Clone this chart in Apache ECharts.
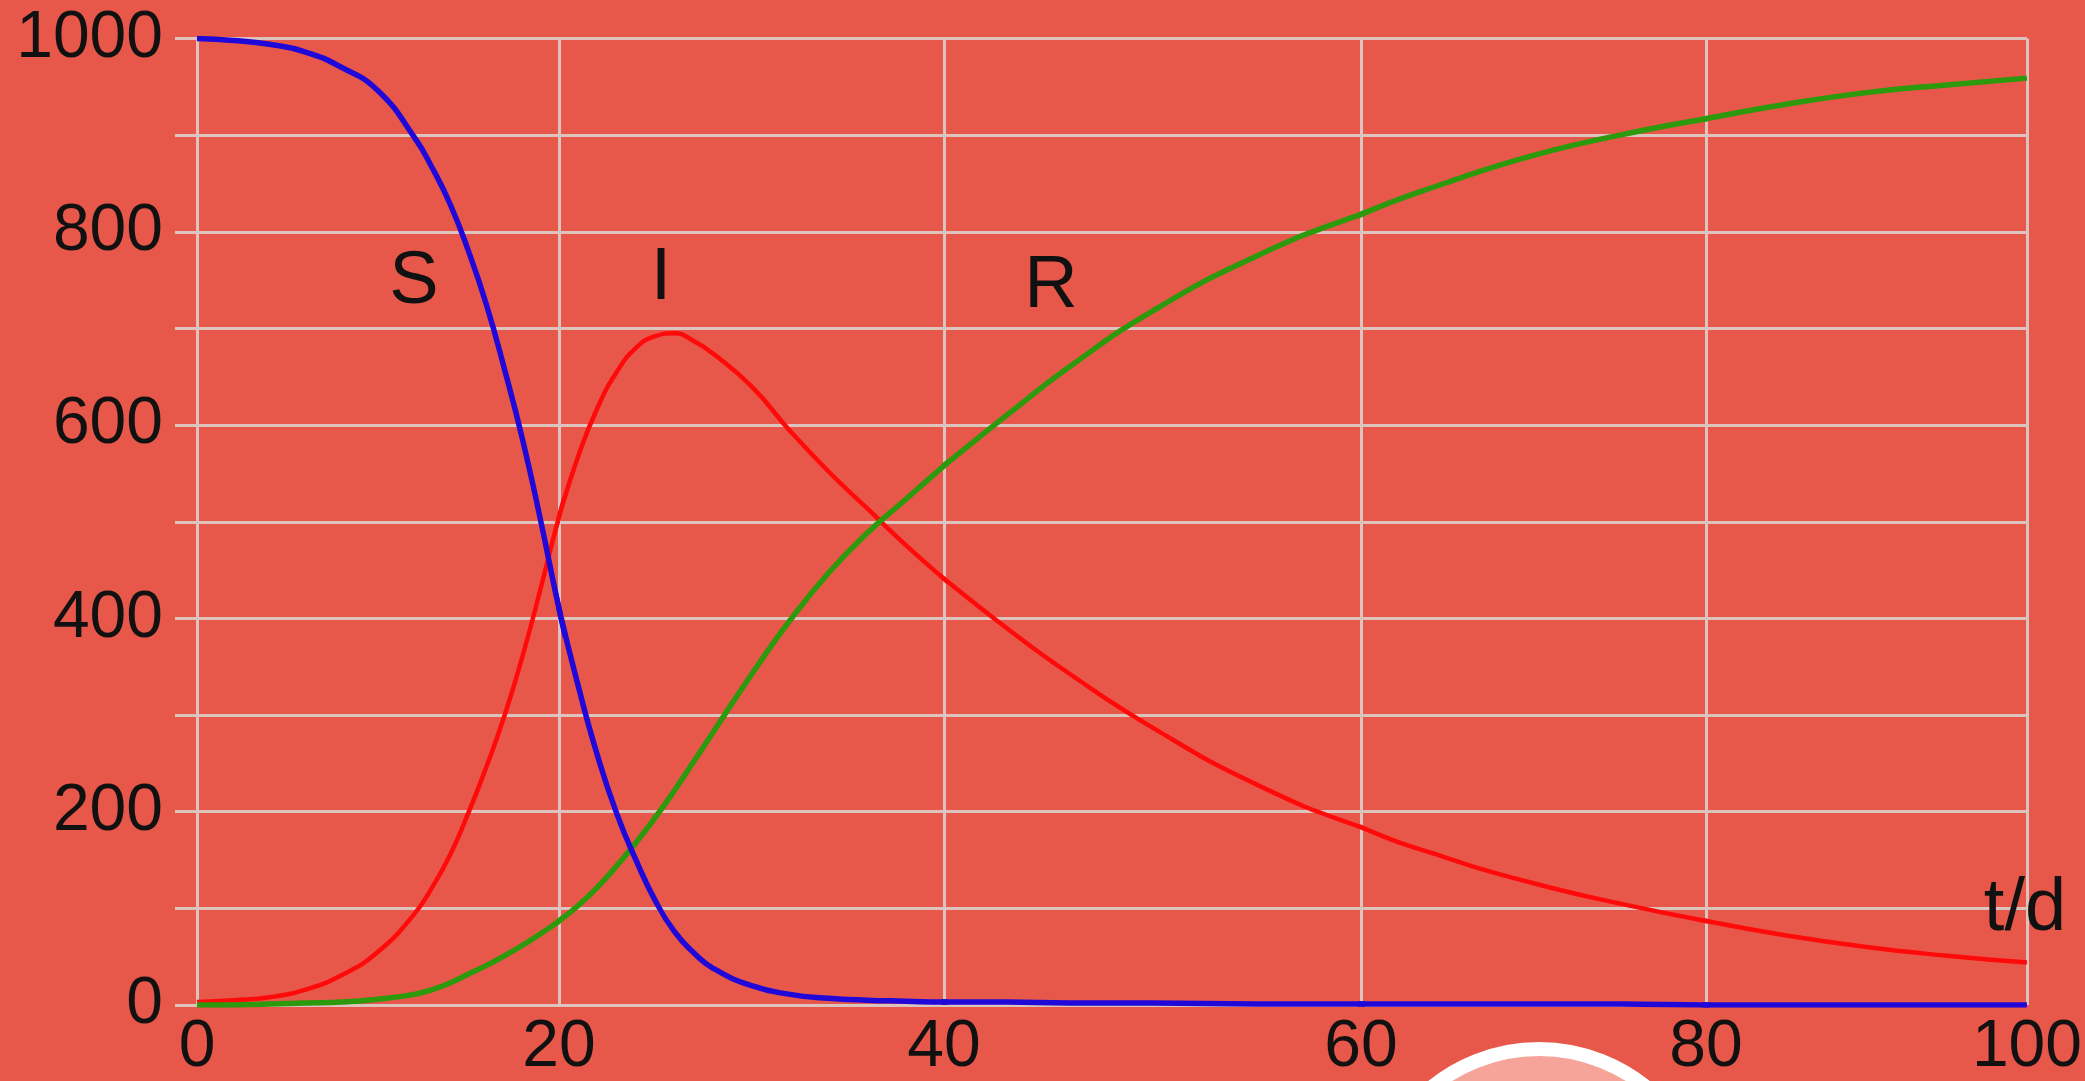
<!DOCTYPE html>
<html>
<head>
<meta charset="utf-8">
<script src="https://cdn.jsdelivr.net/npm/echarts@6/dist/echarts.min.js"></script>
<style>
html,body{margin:0;padding:0;background:#E8584A;}
#chart{width:2085px;height:1081px;}
</style>
</head>
<body>
<div id="chart"></div>
<script>
// ---- data ----
const T = [0,2,4,6,8,10,12,13,14,15,16,17,18,19,20,21,22,23,24,25,26,27,28,30,32,34,36,38,40,43,46,50,55,60,65,70,75,80,85,90,95,100];
const S = [1000,998,994,986,970,946,898,866,828,780,724,657,584,500,410,330,258,198,150,108,76,54,38,20,11,7,5,4,3,3,2,2,1,1,1,1,1,0,0,0,0,0];
const I = [3,5,8,16,31,55,94,122,156,199,247,300,362,432,505,568,618,655,680,692,695,687,674,640,594,552,514,476,441,390,343,287,228,184,152,126,105,87,72,60,51,44];
const R = [0,0,1,2,3,6,11,16,23,32,41,51,62,74,87,103,122,144,168,194,222,252,282,342,398,447,488,523,558,610,660,718,775,818,851,879,900,917,932,944,952,959];
const xTicks = [0,20,40,60,80,100];
const yTicks = [0,200,400,600,800,1000];
const curveNames = ['S','I','R','t/d'];

// ---- layout (the reference's x grid is not evenly spaced) ----
const edges = [197,559,944,1361,1706,2031];
const TOP = 38.5, BOTTOM_Y = 1007;
const BG = '#E8584A', GRIDC = '#dcc3be', FONT = 'Liberation Sans';

function pairs(ys){ return T.map((t,i)=>[t, ys[i]]); }

const grids = [], xAxes = [], yAxes = [], series = [];
for (let k = 0; k < edges.length - 1; k++) {
  grids.push({left: edges[k], top: TOP, width: edges[k+1]-edges[k], height: BOTTOM_Y-TOP});
  xAxes.push({
    type:'value', gridIndex:k, min:xTicks[k], max:xTicks[k+1], interval:20,
    axisLine:{show:false}, axisTick:{show:false},
    splitLine:{show:true, lineStyle:{color:GRIDC, width:3}},
    axisLabel:{show:true, showMinLabel:true, showMaxLabel:k===edges.length-2,
      fontFamily:FONT, fontSize:66, color:'#111', margin:10}
  });
  yAxes.push({
    type:'value', gridIndex:k, min:0, max:1000, interval:100,
    axisLine:{show:false},
    axisTick:{show:k===0, length:22, lineStyle:{color:GRIDC, width:3}},
    splitLine:{show:true, lineStyle:{color:GRIDC, width:3}},
    axisLabel:{show:k===0, margin:34, fontFamily:FONT, fontSize:66, color:'#111',
      formatter: v => yTicks.indexOf(v) >= 0 ? String(v) : ''}
  });
  const common = {type:'line', xAxisIndex:k, yAxisIndex:k, showSymbol:false, smooth:0.5, clip:true, silent:true};
  series.push(Object.assign({}, common, {name:'I', data:pairs(I), lineStyle:{color:'#ff0a0a', width:4.5}}));
  series.push(Object.assign({}, common, {name:'R', data:pairs(R), lineStyle:{color:'#2c9a0c', width:5.5}}));
  series.push(Object.assign({}, common, {name:'S', data:pairs(S), lineStyle:{color:'#2008d8', width:5.5}}));
}

const textStyle = (txt, x, y, size) => ({
  type:'text', x:x, y:y, z:100,
  style:{text:txt, fontFamily:FONT, fontSize:size, fill:'#111', align:'center', verticalAlign:'middle'}
});

const chart = echarts.init(document.getElementById('chart'), null, {renderer:'canvas'});
chart.setOption({
  backgroundColor: BG,
  animation:false,
  grid: grids,
  xAxis: xAxes,
  yAxis: yAxes,
  series: series,
  graphic: [
    textStyle(curveNames[0], 414, 283, 74),
    textStyle(curveNames[1], 661, 279, 74),
    textStyle(curveNames[2], 1051, 287, 74),
    textStyle(curveNames[3], 2025, 910, 74),
    {type:'circle', z:100, shape:{cx:1539, cy:1219, r:170},
     style:{fill:'#f6a399', stroke:'#ffffff', lineWidth:14}}
  ]
});
</script>
</body>
</html>
